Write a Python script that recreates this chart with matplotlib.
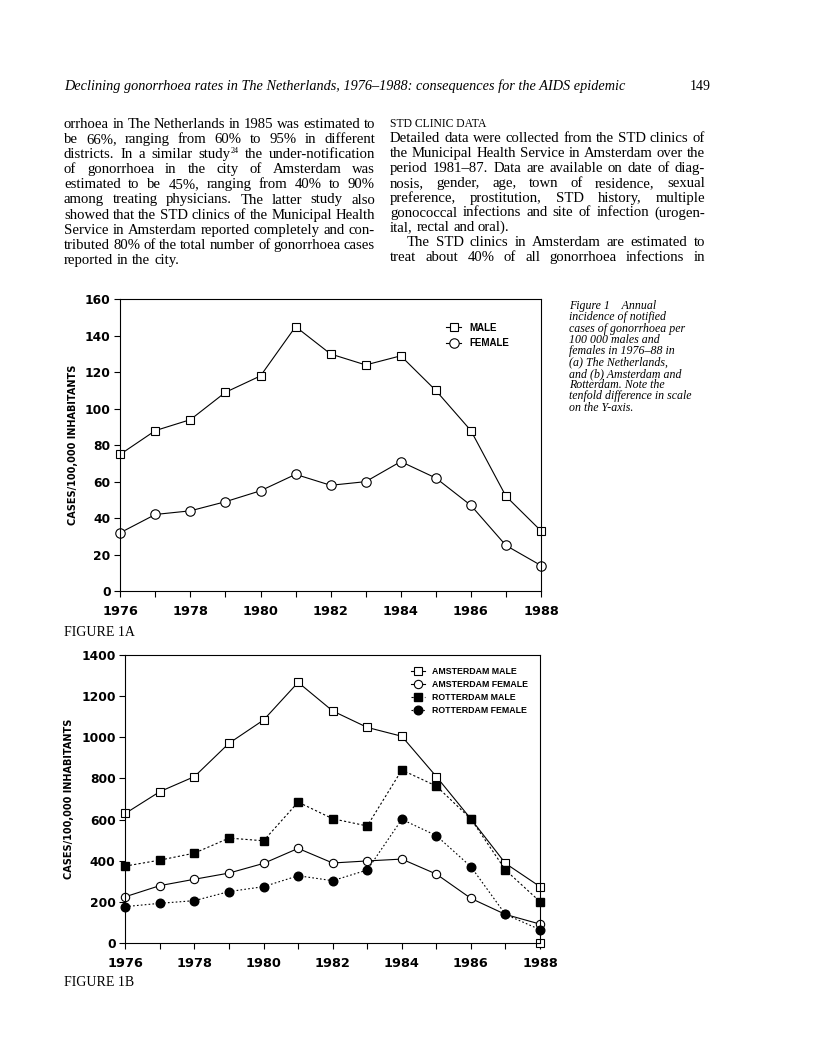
import matplotlib
matplotlib.use("Agg")
import matplotlib.pyplot as plt
from matplotlib.ticker import MultipleLocator

W, H = 816, 1064

years = list(range(1976, 1989))

# figure 1a: The Netherlands
nl_male = [75, 88, 94, 109, 118, 145, 130, 124, 129, 110, 88, 52, 33]
nl_female = [32, 42, 44, 49, 55, 64, 58, 60, 71, 62, 47, 25, 14]

# figure 1b: Amsterdam and Rotterdam
ams_male = [630, 736, 809, 971, 1084, 1267, 1128, 1048, 1005, 809, 603, 387, 274]
ams_male_extra = [(1988, 0)]  # stray open square on the axis in the scan
ams_female = [225, 279, 310, 340, 387, 460, 389, 399, 408, 335, 217, 139, 92]
rot_male = [374, 403, 437, 510, 497, 685, 604, 569, 841, 763, 603, 355, 201]
rot_female = [177, 193, 206, 250, 274, 327, 303, 355, 601, 522, 371, 139, 65]

header = "Declining gonorrhoea rates in The Netherlands, 1976\u20131988: consequences for the AIDS epidemic"
left_col = [
    "orrhoea in The Netherlands in 1985 was estimated to",
    "be 66%, ranging from 60% to 95% in different",
    "districts. In a similar study^24 the under-notification",
    "of gonorrhoea in the city of Amsterdam was",
    "estimated to be 45%, ranging from 40% to 90%",
    "among treating physicians. The latter study also",
    "showed that the STD clinics of the Municipal Health",
    "Service in Amsterdam reported completely and con-",
    "tributed 80% of the total number of gonorrhoea cases",
    "reported in the city.",
]
right_col = [
    "Detailed data were collected from the STD clinics of",
    "the Municipal Health Service in Amsterdam over the",
    "period 1981\u201387. Data are available on date of diag-",
    "nosis, gender, age, town of residence, sexual",
    "preference, prostitution, STD history, multiple",
    "gonococcal infections and site of infection (urogen-",
    "ital, rectal and oral).",
    "The STD clinics in Amsterdam are estimated to",
    "treat about 40% of all gonorrhoea infections in",
]
caption = [
    "Figure 1    Annual",
    "incidence of notified",
    "cases of gonorrhoea per",
    "100 000 males and",
    "females in 1976\u201388 in",
    "(a) The Netherlands,",
    "and (b) Amsterdam and",
    "Rotterdam. Note the",
    "tenfold difference in scale",
    "on the Y-axis.",
]

SERIF = "Liberation Serif"
SANS = "Liberation Sans"
WIDE = "DejaVu Sans"

fig = plt.figure(figsize=(W / 100, H / 100), dpi=100)
renderer = fig.canvas.get_renderer()


def fx(x):
    return x / W


def fy(y):
    return 1 - y / H


def put_line(line, x0, x1, y, justify=True, size=10.6, **kw):
    # one line of text, words spread out to fill x0..x1 (pixels)
    pieces = []
    for word in line.split():
        if "^" in word:
            base, sup = word.split("^")
            t1 = fig.text(0, fy(y), base, fontsize=size, family=SERIF, va="baseline", **kw)
            t2 = fig.text(0, fy(y - 5), sup, fontsize=size * 0.55, family=SERIF, va="baseline", **kw)
            pieces.append([t1, t2])
        else:
            pieces.append([fig.text(0, fy(y), word, fontsize=size, family=SERIF, va="baseline", **kw)])
    widths = [sum(t.get_window_extent(renderer).width for t in p) for p in pieces]
    sp = fig.text(0, 0, "a a", fontsize=size, family=SERIF)
    aa = fig.text(0, 0, "aa", fontsize=size, family=SERIF)
    space = sp.get_window_extent(renderer).width - aa.get_window_extent(renderer).width
    sp.remove()
    aa.remove()
    if justify and len(pieces) > 1:
        gap = (x1 - x0 - sum(widths)) / (len(pieces) - 1)
    else:
        gap = space
    x = x0
    for p, w in zip(pieces, widths):
        xx = x
        for t in p:
            t.set_x(fx(xx))
            xx += t.get_window_extent(renderer).width
        x += w + gap


# running head
fig.text(fx(64), fy(90), header, fontsize=10.3, family=SERIF, style="italic", va="baseline")
fig.text(fx(690), fy(90), "149", fontsize=10, family=SERIF, va="baseline")

# body text
for i, line in enumerate(left_col):
    put_line(line, 64, 375, 127.5 + 15.2 * i, justify=(i != len(left_col) - 1))

fig.text(fx(390), fy(127), "STD CLINIC DATA", fontsize=8.4, family=SERIF, va="baseline")
for i, line in enumerate(right_col):
    x0 = 407 if i == 7 else 390
    put_line(line, x0, 705, 142.5 + 14.8 * i, justify=(i != 6))

for i, line in enumerate(caption):
    fig.text(fx(569), fy(309 + 11.3 * i), line, fontsize=8.6, family=SERIF,
             style="italic", va="baseline")

fig.text(fx(64), fy(636), "FIGURE 1A", fontsize=10, family=SERIF, va="baseline")
fig.text(fx(64), fy(986), "FIGURE 1B", fontsize=10, family=SERIF, va="baseline")


def style_axes(ax, ymax, ystep):
    ax.set_xlim(1976, 1988)
    ax.set_ylim(0, ymax)
    ax.xaxis.set_major_locator(MultipleLocator(2))
    ax.xaxis.set_minor_locator(MultipleLocator(1))
    ax.yaxis.set_major_locator(MultipleLocator(ystep))
    ax.tick_params(which="both", direction="out", length=4, width=0.8, pad=3)
    ax.tick_params(axis="x", pad=6, labelsize=9.3)
    ax.tick_params(axis="y", labelsize=8.8)
    for lab in ax.get_xticklabels() + ax.get_yticklabels():
        lab.set_fontweight("bold")
        lab.set_family(WIDE)
    for s in ax.spines.values():
        s.set_linewidth(0.8)
    ax.set_ylabel("CASES/100,000 INHABITANTS", fontsize=7, fontweight="bold",
                  family=WIDE, labelpad=5)


# figure 1a
ax1 = fig.add_axes([0.1474, 0.4445, 0.5156, 0.2742])
ax1.plot(years, nl_male, color="black", lw=0.8, marker="s", ms=6.3, mfc="white",
         mec="black", mew=0.8, clip_on=False, label="MALE")
ax1.plot(years, nl_female, color="black", lw=0.8, marker="o", ms=6.8, mfc="white",
         mec="black", mew=0.8, clip_on=False, label="FEMALE")
style_axes(ax1, 160, 20)
ax1.legend(loc="upper left", bbox_to_anchor=(fx(437), fy(314)),
           bbox_transform=fig.transFigure, frameon=False, handlelength=1.6,
           handletextpad=0.8, labelspacing=0.55,
           prop={"family": SANS, "weight": "bold", "size": 7})

# figure 1b
ax2 = fig.add_axes([0.1536, 0.1137, 0.5082, 0.2707])
ax2.plot(years, ams_male, color="black", lw=0.8, marker="s", ms=5.3, mfc="white",
         mec="black", mew=0.8, clip_on=False, label="AMSTERDAM MALE")
ax2.plot([p[0] for p in ams_male_extra], [p[1] for p in ams_male_extra], ls="none",
         marker="s", ms=5.3, mfc="white", mec="black", mew=0.8, clip_on=False)
ax2.plot(years, ams_female, color="black", lw=0.8, marker="o", ms=6, mfc="white",
         mec="black", mew=0.8, clip_on=False, label="AMSTERDAM FEMALE")
ax2.plot(years, rot_male, color="black", lw=0.8, ls=(0, (2, 2)), marker="s", ms=6,
         mfc="black", mec="black", clip_on=False, label="ROTTERDAM MALE")
ax2.plot(years, rot_female, color="black", lw=0.8, ls=(0, (1.5, 2)), marker="o", ms=6.2,
         mfc="black", mec="black", clip_on=False, label="ROTTERDAM FEMALE")
style_axes(ax2, 1400, 200)
ax2.legend(loc="upper left", bbox_to_anchor=(fx(403), fy(659)),
           bbox_transform=fig.transFigure, frameon=False, handlelength=1.6,
           handletextpad=0.8, labelspacing=0.45,
           prop={"family": SANS, "weight": "bold", "size": 6.3})

fig.savefig("out.png", dpi=100)
